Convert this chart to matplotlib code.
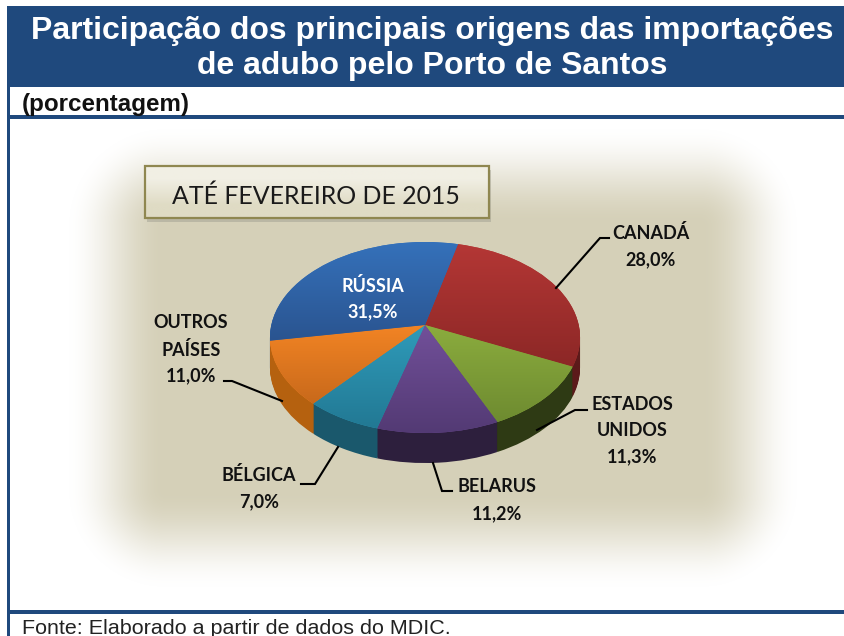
"""
Participação das origens das importações de adubo - pizza 3D
"""

import matplotlib
matplotlib.use('Agg')
import matplotlib.pyplot as plt
import numpy as np
from matplotlib.patches import Rectangle
from matplotlib.transforms import Affine2D, Transform

plt.rcParams['font.family'] = ['Liberation Sans', 'DejaVu Sans']

origens = ['CANADÁ', 'ESTADOS UNIDOS', 'BELARUS', 'BÉLGICA', 'OUTROS PAÍSES', 'RÚSSIA']
valores = [28.0, 11.3, 11.2, 7.0, 11.0, 31.5]
rotulos_valor = ['28,0%', '11,3%', '11,2%', '7,0%', '11,0%', '31,5%']

cores_claras = ['#b43735', '#8bac3e', '#72509a', '#2f9bba', '#f28424', '#3571ba']
cores_escuras = ['#8c2726', '#6e8b30', '#533a74', '#227994', '#c8691b', '#2a5490']
cores_lado = ['#5c1a1a', '#2e3a14', '#2d1f3d', '#1a586c', '#b5610f', '#24477a']

AZUL = '#1f497d'
CX, CY = 425, 325       # vertice da pizza em pixels
DEPTH = 30


class Tilt(Transform):
    """Leva o disco unitario para a elipse em perspectiva."""
    input_dims = 2
    output_dims = 2
    is_separable = False
    has_inverse = False

    def transform_non_affine(self, values):
        values = np.asarray(values)
        u, v = values[:, 0], values[:, 1]
        w = 1 + 0.1308 * v
        return np.column_stack((CX + 153.7 * u / w, CY - 93.9 * v / w))


def hex_rgb(c):
    return np.array(matplotlib.colors.to_rgb(c))


fig = plt.figure(figsize=(8.45, 6.36), dpi=100, facecolor='white')
ax = fig.add_axes([0, 0, 1, 1])
tilt = Tilt()

# fundo bege com borda esfumada
yy, xx = np.mgrid[0:636, 0:845]
dx = np.maximum(np.maximum(165 - xx, xx - 700), 0)
dy = np.maximum(np.maximum(225 - yy, yy - 490), 0)
dist = np.clip(np.hypot(dx, dy) / 100, 0, 1)
fundo = np.zeros((636, 845, 4))
fundo[..., :3] = hex_rgb('#d5d0b8')
fundo[..., 3] = (1 - dist) ** 2 * (1 + 2 * dist)
ax.imshow(fundo, extent=(0, 845, 636, 0), origin='upper', aspect='auto', zorder=1)

# lateral: copias empilhadas da pizza
for off in range(DEPTH, 0, -1):
    wedges, _ = ax.pie(valores, startangle=76, counterclock=False, colors=cores_lado)
    for w in wedges:
        w.set_transform(tilt + Affine2D().translate(0, off) + ax.transData)
        w.set_zorder(2)

# face de cima com degrade em cada fatia
wedges, _ = ax.pie(valores, startangle=76, counterclock=False, colors=cores_claras)
for w, c0, c1 in zip(wedges, cores_claras, cores_escuras):
    w.set_transform(tilt + ax.transData)
    w.set_zorder(3)
    box = tilt.transform_path(w.get_path()).get_extents()
    t = np.linspace(0, 1, 100)[:, None, None]
    grad = hex_rgb(c0)[None, None, :] * (1 - t) + hex_rgb(c1)[None, None, :] * t
    im = ax.imshow(grad, extent=(box.x0, box.x1, box.y1, box.y0), origin='upper',
                   aspect='auto', zorder=4)
    im.set_clip_path(w)

ax.set_aspect('auto')
ax.set_xlim(0, 845)
ax.set_ylim(636, 0)
ax.axis('off')

# faixa do titulo e molduras
ax.add_patch(Rectangle((7, 6), 838, 81, color=AZUL, lw=0, zorder=5))
ax.add_patch(Rectangle((7.5, 87), 3, 549, color=AZUL, lw=0, zorder=5))
ax.add_patch(Rectangle((7.5, 115), 838, 3.5, color=AZUL, lw=0, zorder=5))
ax.add_patch(Rectangle((7.5, 610), 838, 4, color=AZUL, lw=0, zorder=5))

ax.text(432.5, 31, 'Participação dos principais origens das importações', color='white',
        fontsize=23, fontweight='bold', ha='center', va='center', zorder=6)
ax.text(432.5, 66, 'de adubo pelo Porto de Santos', color='white',
        fontsize=23, fontweight='bold', ha='center', va='center', zorder=6)
ax.text(22, 104, '(porcentagem)', color='#111111', fontsize=17.4, fontweight='bold',
        ha='left', va='center', zorder=6)
ax.text(22, 628, 'Fonte: Elaborado a partir de dados do MDIC.', color='#222222', fontsize=15.45,
        ha='left', va='center', zorder=6)

# caixa do periodo
ax.add_patch(Rectangle((147, 170), 344, 52, color='#8a8a80', alpha=0.35, lw=0, zorder=5))
caixa = np.array([hex_rgb('#f1efe4'), hex_rgb('#dfdbc4')])[:, None, :]
ax.imshow(caixa, extent=(145, 489, 218, 166), origin='upper', aspect='auto',
          interpolation='bilinear', zorder=6)
ax.add_patch(Rectangle((145, 166), 344, 52, fc='none', ec='#8f8750', lw=1.6, zorder=7))
ax.text(316, 196, 'ATÉ FEVEREIRO DE 2015', fontsize=17.9, family=['Lato', 'DejaVu Sans'],
        color='#1a1a1a', ha='center', va='center', zorder=8)
ax.set_xlim(0, 845)
ax.set_ylim(636, 0)

# linhas de chamada
leaders = [
    ([556, 600, 609], [288, 238, 238]),
    ([537, 575, 587], [430, 410, 410]),
    ([433, 442, 452], [463, 491, 491]),
    ([338, 315, 301], [447, 484, 484]),
    ([282, 232, 224], [401, 381, 381]),
]
for xs, ys in leaders:
    ax.plot(xs, ys, color='black', lw=1.5, zorder=6, solid_joinstyle='miter')

# rotulos
label_pos = [
    (651, [233, 260]),
    (632, [404, 430, 457]),
    (497, [487, 514]),
    (259, [475, 502]),
    (191, [322, 350, 376]),
    (373, [286, 312]),
]
for nome, val, (lx, lys) in zip(origens, rotulos_valor, label_pos):
    linhas = nome.split(' ') + [val]
    cor = 'white' if nome == 'RÚSSIA' else '#111111'
    for linha, ly in zip(linhas, lys):
        ax.text(lx, ly, linha, fontsize=13, fontweight='bold', color=cor,
                family=['Lato', 'DejaVu Sans'], ha='center', va='center', zorder=8)

fig.savefig('out.png', dpi=100, facecolor='white')
plt.close()
